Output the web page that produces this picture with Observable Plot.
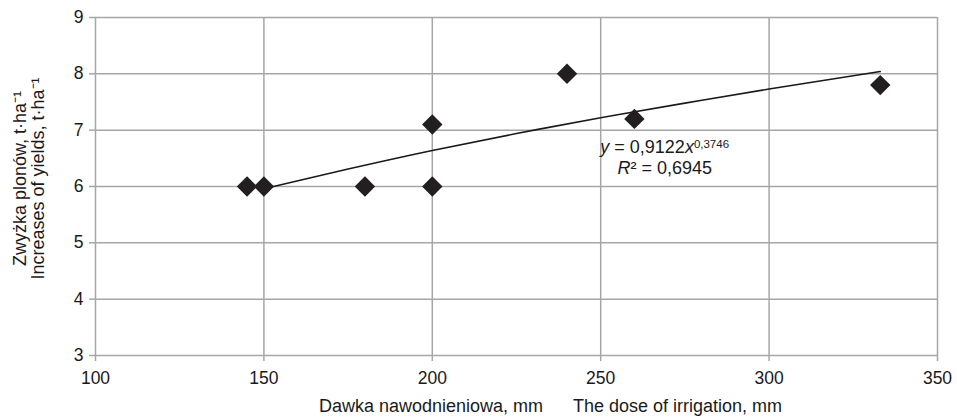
<!DOCTYPE html>
<html>
<head>
<meta charset="utf-8">
<script src="https://cdn.jsdelivr.net/npm/d3@7"></script>
<script src="https://cdn.jsdelivr.net/npm/@observablehq/plot@0.6"></script>
<style>
  html, body { margin: 0; padding: 0; background: #fff; }
  svg { font-family: Arial, "Liberation Sans", sans-serif; }
</style>
</head>
<body>
<div id="chart"></div>
<script>
// Observed data points
const doseMm = [145, 150, 180, 200, 200, 240, 260, 333];
const yieldIncrease = [6.0, 6.0, 6.0, 7.1, 6.0, 8.0, 7.2, 7.8];

// Power trend line (y = 0,9122x^0,3746)
const trendX = [150, 175, 200, 225, 250, 275, 300, 333];
const trendY = [5.96, 6.31, 6.64, 6.94, 7.22, 7.48, 7.73, 8.04];

// Axis ticks
const xTicks = [100, 150, 200, 250, 300, 350];
const yTicks = [3, 4, 5, 6, 7, 8, 9];

const nb = "\u00A0";
const xLabel = "Dawka nawodnieniowa, mm" + nb.repeat(6) + "The dose of irrigation, mm";
const yLabel = "Zwyżka plonów, t·ha⁻¹\nIncreases of yields, t·ha⁻¹";

const points = doseMm.map((x, i) => ({x, y: yieldIncrease[i]}));
const trend = trendX.map((x, i) => ({x, y: trendY[i]}));

const gridColor = "#a6a6a6";
const textColor = "#1a1a1a";

const chart = Plot.plot({
  width: 957,
  height: 418,
  marginLeft: 95,
  marginRight: 20,
  marginTop: 17,
  marginBottom: 63,
  style: {fontSize: "17px", fontFamily: "Arial, 'Liberation Sans', sans-serif", color: textColor, background: "#fff"},
  x: {domain: [100, 350], ticks: xTicks, label: null},
  y: {domain: [3, 9], ticks: yTicks, label: null},
  marks: [
    Plot.gridX(xTicks, {stroke: gridColor, strokeOpacity: 1, strokeWidth: 1.5}),
    Plot.gridY(yTicks, {stroke: gridColor, strokeOpacity: 1, strokeWidth: 1.5}),
    Plot.axisX(xTicks, {tickSize: 6, tickPadding: 10, stroke: gridColor, strokeWidth: 1.5, fill: textColor, label: null, fontSize: 17.5, tickFormat: d => String(d)}),
    Plot.axisY(yTicks, {tickSize: 6, tickPadding: 6, stroke: gridColor, strokeWidth: 1.5, fill: textColor, label: null, fontSize: 17.5, tickFormat: d => String(d)}),
    Plot.line(trend, {x: "x", y: "y", curve: "natural", stroke: "#1a1a1a", strokeWidth: 1.6}),
    Plot.dot(points, {x: "x", y: "y", symbol: "diamond2", r: 9.2, fill: "#231f20", stroke: "none"}),
    Plot.text(["y = 0,9122x0,3746"], {x: 269, y: 6.70, text: d => d, fontSize: 18, fill: textColor, textAnchor: "middle"}),
    Plot.text(["R² = 0,6945"], {x: 269, y: 6.32, text: d => d, fontSize: 18, fill: textColor, textAnchor: "middle"}),
    Plot.text([xLabel], {frameAnchor: "bottom", dx: 34, dy: 56, text: d => d, fontSize: 18, fill: textColor, textAnchor: "middle"}),
    Plot.text([yLabel], {frameAnchor: "left", dx: -66, dy: -8, rotate: -90, text: d => d, fontSize: 18, fill: textColor, textAnchor: "middle", lineHeight: 1.0})
  ]
});

document.getElementById("chart").appendChild(chart);

// Rich formatting for the regression equation (italic variables, superscript exponent)
d3.select(chart).selectAll("text").each(function() {
  const t = this.textContent;
  if (t === "y = 0,9122x0,3746") {
    const s = d3.select(this);
    s.text(null);
    s.append("tspan").attr("font-style", "italic").text("y");
    s.append("tspan").text(" = 0,9122");
    s.append("tspan").attr("font-style", "italic").text("x");
    s.append("tspan").attr("dy", "-0.45em").attr("font-size", "11.5px").text("0,3746");
  } else if (t === "R² = 0,6945") {
    const s = d3.select(this);
    s.text(null);
    s.append("tspan").attr("font-style", "italic").text("R");
    s.append("tspan").text("² = 0,6945");
  }
});
</script>
</body>
</html>
